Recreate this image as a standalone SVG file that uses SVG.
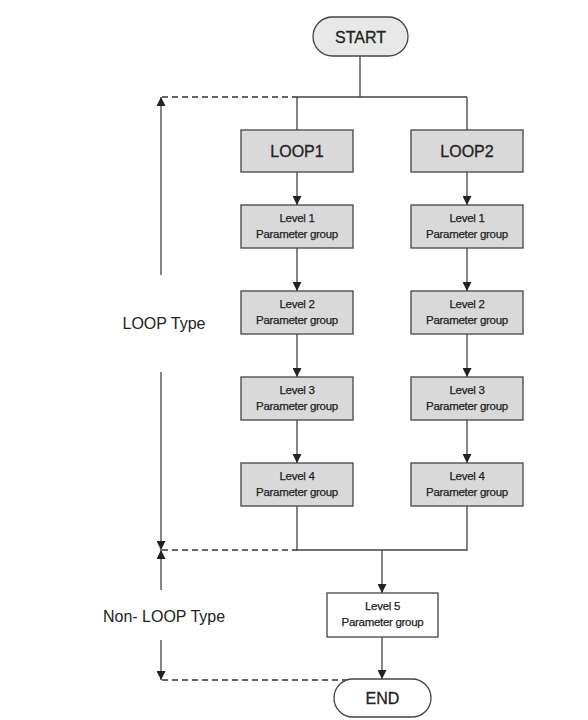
<svg xmlns="http://www.w3.org/2000/svg" width="588" height="720" viewBox="0 0 588 720">
<defs>
<marker id="ah" viewBox="0 0 10 10" refX="10" refY="5" markerWidth="9" markerHeight="9" markerUnits="userSpaceOnUse" orient="auto">
<path d="M0,0 L10,5 L0,10 Z" fill="#222"/>
</marker>
</defs>
<style>
.box{fill:#d9d9d9;stroke:#444;stroke-width:1.3}
.wbox{fill:#fff;stroke:#444;stroke-width:1.3}
.pill{stroke:#444;stroke-width:1.3}
.ln{fill:none;stroke:#444;stroke-width:1.3}
.arr{fill:none;stroke:#444;stroke-width:1.3;marker-end:url(#ah)}
.dash{fill:none;stroke:#333;stroke-width:1.3;stroke-dasharray:6,4}
.t{font-family:"Liberation Sans",Arial,sans-serif;fill:#222;text-anchor:middle}
.big{font-size:16px;stroke:#222;stroke-width:0.3}
.sm{font-size:11.5px;letter-spacing:-0.3px;stroke:#222;stroke-width:0.25}
.lbl{font-family:"Liberation Sans",Arial,sans-serif;fill:#222;font-size:16px;text-anchor:middle}
</style>
<rect width="588" height="720" fill="#fff"/>
<g id="connectors">
<path class="ln" d="M360,56 V97 M297,97 H467 M297,97 V130 M467,97 V130"/>
<path class="dash" d="M162,97 H297"/>
<path class="arr" d="M297,172 V205"/>
<path class="arr" d="M297,248 V291"/>
<path class="arr" d="M297,334 V377"/>
<path class="arr" d="M297,420 V463"/>
<path class="arr" d="M467,172 V205"/>
<path class="arr" d="M467,248 V291"/>
<path class="arr" d="M467,334 V377"/>
<path class="arr" d="M467,420 V463"/>
<path class="ln" d="M297,506 V550 H467 V506"/>
<path class="dash" d="M162,550 H297"/>
<path class="arr" d="M382,550 V593"/>
<path class="arr" d="M382,637 V679"/>
<path class="dash" d="M162,680 H356"/>
<path class="arr" d="M161,275 V97"/>
<path class="arr" d="M161,372 V550"/>
<path class="arr" d="M161,590 V550"/>
<path class="arr" d="M161,640 V680"/>
</g>
<g id="start">
<rect class="pill" x="313" y="17" width="95" height="39" rx="19.5" fill="#e8e8e8"/>
<text class="t big" x="360.5" y="42.5">START</text>
</g>
<g id="loop1">
<rect class="box" x="241" y="130" width="112" height="42"/>
<text class="t big" x="297" y="157">LOOP1</text>
</g>
<g id="loop2">
<rect class="box" x="411" y="130" width="112" height="42"/>
<text class="t big" x="467" y="157">LOOP2</text>
</g>
<g id="l1a"><rect class="box" x="241" y="205" width="112" height="43"/><text class="t sm" x="297" y="222">Level 1</text><text class="t sm" x="297" y="238">Parameter group</text></g>
<g id="l2a"><rect class="box" x="241" y="291" width="112" height="43"/><text class="t sm" x="297" y="308">Level 2</text><text class="t sm" x="297" y="324">Parameter group</text></g>
<g id="l3a"><rect class="box" x="241" y="377" width="112" height="43"/><text class="t sm" x="297" y="394">Level 3</text><text class="t sm" x="297" y="410">Parameter group</text></g>
<g id="l4a"><rect class="box" x="241" y="463" width="112" height="43"/><text class="t sm" x="297" y="480">Level 4</text><text class="t sm" x="297" y="496">Parameter group</text></g>
<g id="l1b"><rect class="box" x="411" y="205" width="112" height="43"/><text class="t sm" x="467" y="222">Level 1</text><text class="t sm" x="467" y="238">Parameter group</text></g>
<g id="l2b"><rect class="box" x="411" y="291" width="112" height="43"/><text class="t sm" x="467" y="308">Level 2</text><text class="t sm" x="467" y="324">Parameter group</text></g>
<g id="l3b"><rect class="box" x="411" y="377" width="112" height="43"/><text class="t sm" x="467" y="394">Level 3</text><text class="t sm" x="467" y="410">Parameter group</text></g>
<g id="l4b"><rect class="box" x="411" y="463" width="112" height="43"/><text class="t sm" x="467" y="480">Level 4</text><text class="t sm" x="467" y="496">Parameter group</text></g>
<g id="l5"><rect class="wbox" x="327" y="593" width="111" height="44"/><text class="t sm" x="382.5" y="610">Level 5</text><text class="t sm" x="382.5" y="626">Parameter group</text></g>
<g id="end">
<rect class="pill" x="334" y="679" width="97" height="38" rx="19" fill="#fff"/>
<text class="t big" x="382.5" y="704">END</text>
</g>
<g id="labels">
<text class="lbl" x="164" y="329">LOOP Type</text>
<text class="lbl" x="164" y="622">Non- LOOP Type</text>
</g>
</svg>
